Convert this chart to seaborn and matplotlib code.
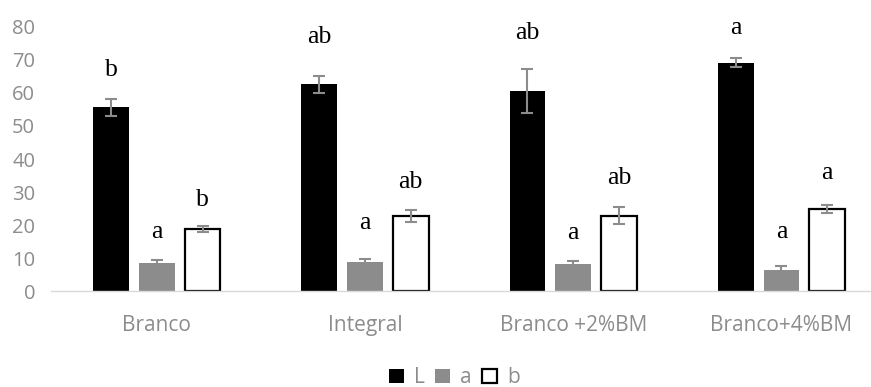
import matplotlib
matplotlib.use("Agg")
import matplotlib.pyplot as plt
import seaborn as sns
import pandas as pd
import numpy as np

categories = ["Branco", "Integral", "Branco +2%BM", "Branco+4%BM"]
series = ["L", "a", "b"]
L_vals = [55.6, 62.6, 60.6, 69.1]
a_vals = [8.5, 8.8, 8.2, 6.4]
b_vals = [18.9, 22.7, 22.9, 25.0]
L_err = [2.5, 2.5, 6.6, 1.4]
a_err = [1.0, 1.0, 0.9, 1.4]
b_err = [1.0, 1.8, 2.6, 1.2]
L_letters = ["b", "ab", "ab", "a"]
a_letters = ["a", "a", "a", "a"]
b_letters = ["b", "ab", "ab", "a"]
L_letter_y = [66.9, 76.9, 78.1, 79.6]
a_letter_y = [18.0, 20.7, 17.7, 18.0]
b_letter_y = [27.6, 33.2, 34.3, 35.8]

sns.set_theme(style="white")
plt.rcParams['font.family'] = ['Open Sans', 'DejaVu Sans']

rows = []
for s, vals in zip(series, [L_vals, a_vals, b_vals]):
    for c, v in zip(categories, vals):
        rows.append({"cat": c, "series": s, "value": v})
df = pd.DataFrame(rows)

fig = plt.figure(figsize=(8.71, 3.87), dpi=100)
ax = fig.add_axes([0.058, 0.247, 0.942, 0.684])

palette = {"L": "#000000", "a": "#8c8c8c", "b": "#ffffff"}
sns.barplot(data=df, x="cat", y="value", hue="series", order=categories,
            hue_order=series, palette=palette, width=0.66, gap=0.22,
            errorbar=None, ax=ax, legend=False, saturation=1)

errs = [L_err, a_err, b_err]
letters = [L_letters, a_letters, b_letters]
letter_ys = [L_letter_y, a_letter_y, b_letter_y]
bar_conts = list(ax.containers)
for k, cont in enumerate(bar_conts):
    for i, p in enumerate(cont.patches):
        if series[k] == "b":
            p.set_edgecolor("black")
            p.set_linewidth(1.6)
        else:
            p.set_edgecolor(p.get_facecolor())
            p.set_linewidth(0)
        xc = p.get_x() + p.get_width() / 2
        h = p.get_height()
        ax.errorbar(xc, h, yerr=errs[k][i], fmt="none", ecolor="#8c8c8c",
                    elinewidth=1.5, capsize=4, capthick=1.5, zorder=5)
        ax.text(xc, letter_ys[k][i], letters[k][i], ha="center", va="center",
                fontsize=18.5, family=["Liberation Serif"], color="black")

ax.set_ylim(0, 80)
ax.set_xlim(-0.51, 3.43)
ax.set_yticks(range(0, 81, 10))
ax.set_xlabel("")
ax.set_ylabel("")
for s in ["top", "right", "left"]:
    ax.spines[s].set_visible(False)
ax.spines["bottom"].set_color("#d9d9d9")
ax.spines["bottom"].set_linewidth(1)
ax.tick_params(axis="y", colors="#8c8c8c", labelsize=14.5, length=0, pad=11)
ax.tick_params(axis="x", colors="#8c8c8c", labelsize=15, length=0, pad=17)

handles = [plt.Rectangle((0, 0), 1, 1, facecolor=palette[s],
                         edgecolor="black", linewidth=1.6 if s == "b" else 0)
           for s in series]
leg = fig.legend(handles, series, loc="center", bbox_to_anchor=(0.522, 0.024),
                 ncol=3, frameon=False, fontsize=15, handlelength=0.7,
                 handleheight=0.7, handletextpad=0.5, columnspacing=0.5)
for t in leg.get_texts():
    t.set_color("#8c8c8c")

fig.savefig("out.png", dpi=100)
